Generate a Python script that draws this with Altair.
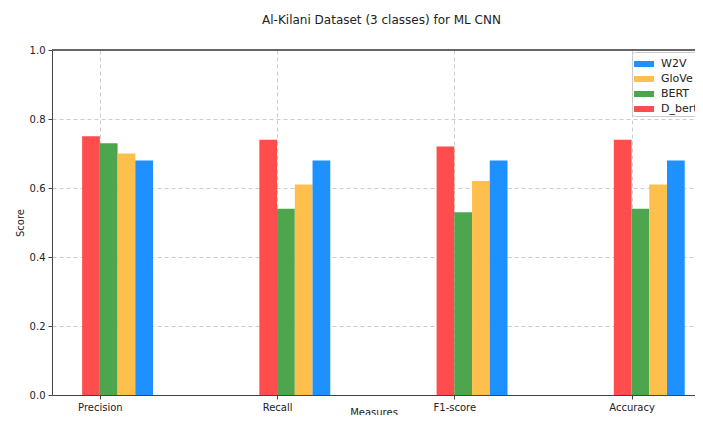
import altair as alt
import pandas as pd

categories = ["Precision", "Recall", "F1-score", "Accuracy"]
models = ["D_bert", "BERT", "GloVe", "W2V"]
d_bert = [0.75, 0.74, 0.72, 0.74]
bert = [0.73, 0.54, 0.53, 0.54]
glove = [0.70, 0.61, 0.62, 0.61]
w2v = [0.68, 0.68, 0.68, 0.68]
colors = {"W2V": "#1E90FF", "GloVe": "#FFBF4D", "BERT": "#4DA64D", "D_bert": "#FF4D4D"}

series = {"D_bert": d_bert, "BERT": bert, "GloVe": glove, "W2V": w2v}
bar_w = 0.1
rows = []
for mi, m in enumerate(models):
    for ci, c in enumerate(categories):
        left = ci + (mi - 1) * bar_w
        rows.append({"model": m, "measure": c, "x0": left, "x1": left + bar_w, "score": series[m][ci]})
df = pd.DataFrame(rows)

legend_order = ["W2V", "GloVe", "BERT", "D_bert"]
label_expr = "[" + ",".join("'%s'" % c for c in categories) + "][datum.value]"

FONT = "DejaVu Sans"

bars = alt.Chart(df).mark_bar(stroke=None).encode(
    x=alt.X("x0:Q",
            scale=alt.Scale(domain=[-0.27, 3.358], nice=False, zero=False),
            axis=alt.Axis(title="Measures", values=[0, 1, 2, 3], labelExpr=label_expr,
                          grid=True, gridDash=[4, 3], gridColor="#cccccc",
                          domainColor="#444444", tickColor="#444444", tickSize=4,
                          labelPadding=3, labelFontSize=10,
                          titleFontSize=10, labelColor="#222", titleColor="#222",
                          titleFontWeight="normal", titleBaseline="top", titleY=12)),
    x2="x1:Q",
    y=alt.Y("score:Q",
            scale=alt.Scale(domain=[0, 1], nice=False),
            axis=alt.Axis(title="Score", values=[0, 0.2, 0.4, 0.6, 0.8, 1.0], format=".1f",
                          grid=True, gridDash=[4, 3], gridColor="#cccccc",
                          domainColor="#444444", tickColor="#444444", tickSize=4,
                          labelPadding=3, titlePadding=4, labelFontSize=10,
                          titleFontSize=10, labelColor="#222", titleColor="#222",
                          titleFontWeight="normal")),
    y2=alt.datum(0),
    color=alt.Color("model:N",
                    scale=alt.Scale(domain=legend_order, range=[colors[m] for m in legend_order]),
                    legend=alt.Legend(title=None, orient="none", legendX=580, legendY=2,
                                      symbolType="M-1,-0.3L1,-0.3L1,0.3L-1,0.3Z",
                                      symbolSize=400, symbolStrokeWidth=0,
                                      labelFontSize=11, labelColor="#222",
                                      strokeColor="#cccccc", fillColor="white",
                                      padding=2, cornerRadius=3, rowPadding=-1.5,
                                      labelOffset=7)),
)

top = alt.Chart(df).mark_rule(color="#666666", strokeWidth=1).encode(y=alt.datum(1.0))

chart = alt.layer(bars, top).properties(
    width=643,
    height=345,
    title=alt.TitleParams("Al-Kilani Dataset (3 classes) for ML CNN", fontSize=12,
                          fontWeight="normal", font=FONT, color="#222", offset=18, dx=8),
    autosize=alt.AutoSizeParams(type="none"),
    padding={"left": 44, "top": 42, "right": 0, "bottom": 20},
).configure(font=FONT).configure_view(stroke=None)

chart.save("out.html", embed_options={"renderer": "svg", "actions": False})
